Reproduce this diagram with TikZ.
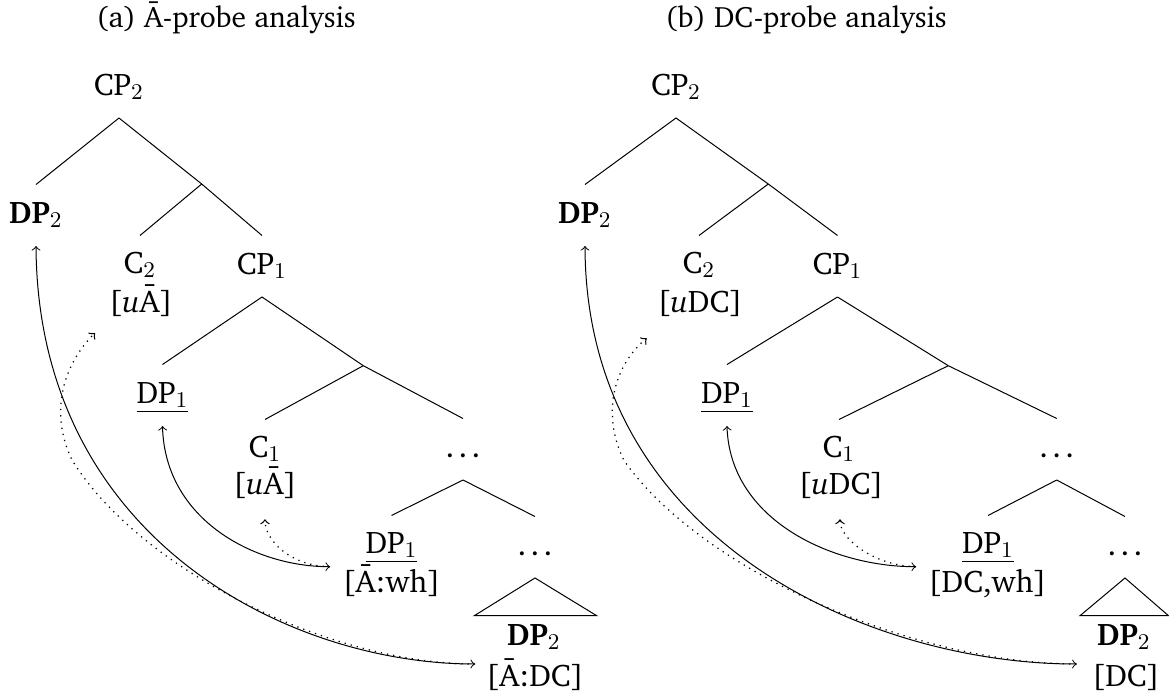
\documentclass[tikz,border=0pt]{standalone}
\usepackage[T1]{fontenc}
\usepackage{charter}
% tight ellipsis for the elided tree nodes
\newcommand{\eldots}{.\kern0.14em.\kern0.14em.}

\begin{document}
\begin{tikzpicture}[x=0.4pt,y=-0.4pt,
  font=\fontsize{12.5}{15}\selectfont,
  ttl/.style={anchor=base, inner sep=0pt, font=\fontsize{11.8}{14}\selectfont},
  lbl/.style={anchor=base, inner sep=0pt, text height=10.4pt, text depth=3pt},
  feat/.style={anchor=base, inner sep=0pt, text height=8.6pt, text depth=2.6pt},
  branch/.style={line width=0.4pt},
  link/.style={<->, line width=0.4pt},
  probe/.style={->, dotted, line width=0.5pt}]
\useasboundingbox (0,0) rectangle (1169,700);

% ---------------- (a) A-bar probe ----------------
\node[ttl] (titleA) at (226,27) {(a) \={A}-probe analysis};
\node[lbl] (aCP2) at (119,95) {CP$_2$};
\node[lbl] (aDP2) at (36,223) {\textbf{DP}$_2$};
\coordinate (aM1) at (201.7,184);
\node[lbl] (aC2) at (140,273) {C$_2$};
\node[feat] (aC2f) at (141,312) {[\textit{u}\={A}]};
\node[lbl] (aCP1) at (262,274) {CP$_1$};
\node[lbl] (aDP1) at (162.5,403) {\underline{DP$_1$}};
\coordinate (aM2) at (363.3,365.7);
\node[lbl] (aC1) at (265,457) {C$_1$};
\node[feat] (aC1f) at (265,494) {[\textit{u}\={A}]};
\node[lbl] (aDots) at (463,457) {\eldots};
\node[lbl] (aDP1low) at (391.5,553) {\underline{DP$_1$}};
\node[feat] (aDP1f) at (391.5,592) {[\={A}:wh]};
\node[lbl] (aDots2) at (535,555) {\eldots};
\node[feat] (aDP2low) at (534,645) {\textbf{DP}$_2$};
\node[feat] (aDP2f) at (535,686) {[\={A}:DC]};
\coordinate (aRoofL) at (474.3,615.7);
\coordinate (aRoofR) at (596.7,615.7);

\draw[branch] ([yshift=-6pt]aCP2.south) -- ([yshift=4.8pt]aDP2.north);
\draw[branch] ([yshift=-6pt]aCP2.south) -- (aM1);
\draw[branch] (aM1) -- ([yshift=4.4pt]aC2.north);
\draw[branch] (aM1) -- ([yshift=4.8pt]aCP1.north);
\draw[branch] ([yshift=-6pt]aCP1.south) -- ([yshift=4.8pt]aDP1.north);
\draw[branch] ([yshift=-6pt]aCP1.south) -- (aM2);
\draw[branch] (aM2) -- ([yshift=4.4pt]aC1.north);
\draw[branch] (aM2) -- ([yshift=4.8pt]aDots.north);
\draw[branch] ([yshift=-6pt]aDots.south) -- ([yshift=4.4pt]aDP1low.north);
\draw[branch] ([yshift=-6pt]aDots.south) -- ([yshift=4.8pt]aDots2.north);
\draw[branch] ([yshift=-6pt]aDots2.south) -- (aRoofL) -- (aRoofR) -- cycle;

\coordinate (aDP2in) at (475,664);
\coordinate (aDP1in) at (330,566.7);
\coordinate (aC1probe) at (265,519.3);
\coordinate (aC2probe) at (95,333);
\coordinate (aBend) at (72,460);
\draw[link] ([yshift=-6pt]aDP2.south) .. controls (38,540) and (290,664) .. (aDP2in);
\draw[link] ([yshift=-6pt]aDP1.south) .. controls (165,520) and (255,566.7) .. (aDP1in);
\draw[probe] (aDP1in) .. controls (290,566) and (265,540) .. (aC1probe);
\draw[probe] (aDP2in) .. controls (330,664) and (140,570) .. (aBend)
  .. controls (48,410) and (65,363) .. (aC2probe);

% ---------------- (b) DC probe ----------------
\node[ttl] (titleB) at (806,27) {(b) DC-probe analysis};
\node[lbl] (bCP2) at (676,95) {CP$_2$};
\node[lbl] (bDP2) at (585,223) {\textbf{DP}$_2$};
\coordinate (bM1) at (768.3,184);
\node[lbl] (bC2) at (699,273) {C$_2$};
\node[feat] (bC2f) at (700,312) {[\textit{u}DC]};
\node[lbl] (bCP1) at (837.5,274) {CP$_1$};
\node[lbl] (bDP1) at (727,403) {\underline{DP$_1$}};
\coordinate (bM2) at (948.3,365.7);
\node[lbl] (bC1) at (839,457) {C$_1$};
\node[feat] (bC1f) at (841,494) {[\textit{u}DC]};
\node[lbl] (bDots) at (1056.7,457) {\eldots};
\node[lbl] (bDP1low) at (988,553) {\underline{DP$_1$}};
\node[feat] (bDP1f) at (987.5,592) {[DC,wh]};
\node[lbl] (bDots2) at (1125,555) {\eldots};
\node[feat] (bDP2low) at (1124,645) {\textbf{DP}$_2$};
\node[feat] (bDP2f) at (1126,686) {[DC]};
\coordinate (bRoofL) at (1080,615.7);
\coordinate (bRoofR) at (1168.5,615.7);

\draw[branch] ([yshift=-6pt]bCP2.south) -- ([yshift=4.8pt]bDP2.north);
\draw[branch] ([yshift=-6pt]bCP2.south) -- (bM1);
\draw[branch] (bM1) -- ([yshift=4.4pt]bC2.north);
\draw[branch] (bM1) -- ([yshift=4.8pt]bCP1.north);
\draw[branch] ([yshift=-6pt]bCP1.south) -- ([yshift=4.8pt]bDP1.north);
\draw[branch] ([yshift=-6pt]bCP1.south) -- (bM2);
\draw[branch] (bM2) -- ([yshift=4.4pt]bC1.north);
\draw[branch] (bM2) -- ([yshift=4.8pt]bDots.north);
\draw[branch] ([yshift=-6pt]bDots.south) -- ([yshift=4.4pt]bDP1low.north);
\draw[branch] ([yshift=-6pt]bDots.south) -- ([yshift=4.8pt]bDots2.north);
\draw[branch] ([yshift=-6pt]bDots2.south) -- (bRoofL) -- (bRoofR) -- cycle;

\coordinate (bDP2in) at (1076.7,664);
\coordinate (bDP1in) at (916,566.7);
\coordinate (bC1probe) at (840,519.3);
\coordinate (bC2probe) at (646.7,338.3);
\coordinate (bBend) at (623.7,460);
\draw[link] ([yshift=-6pt]bDP2.south) .. controls (586,540) and (869,664) .. (bDP2in);
\draw[link] ([yshift=-6pt]bDP1.south) .. controls (730,520) and (832,566.7) .. (bDP1in);
\draw[probe] (bDP1in) .. controls (876,566) and (840,540) .. (bC1probe);
\draw[probe] (bDP2in) .. controls (913.7,664) and (700,570) .. (bBend)
  .. controls (599.7,410) and (616.7,363) .. (bC2probe);
\end{tikzpicture}
\end{document}
